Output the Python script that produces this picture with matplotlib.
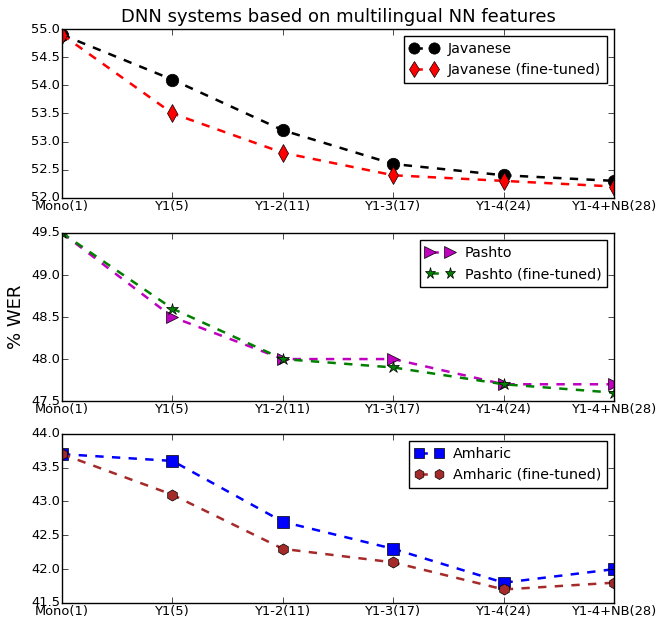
import matplotlib
matplotlib.use("Agg")
import matplotlib.pyplot as plt

plt.style.use('classic')

categories = ["Mono(1)", "Y1(5)", "Y1-2(11)", "Y1-3(17)", "Y1-4(24)", "Y1-4+NB(28)"]
javanese = [54.9, 54.1, 53.2, 52.6, 52.4, 52.3]
javanese_ft = [54.9, 53.5, 52.8, 52.4, 52.3, 52.2]
pashto = [49.5, 48.5, 48.0, 48.0, 47.7, 47.7]
pashto_ft = [49.5, 48.6, 48.0, 47.9, 47.7, 47.6]
amharic = [43.7, 43.6, 42.7, 42.3, 41.8, 42.0]
amharic_ft = [43.7, 43.1, 42.3, 42.1, 41.7, 41.8]

x = list(range(len(categories)))

fig = plt.figure(figsize=(6.62, 6.18), dpi=100, facecolor='white')
W = 0.834
L = 0.0937
ax1 = fig.add_axes([L, 0.680, W, 0.273])
ax2 = fig.add_axes([L, 0.351, W, 0.272])
ax3 = fig.add_axes([L, 0.0243, W, 0.2737])

panels = [
    (ax1, [(javanese, 'Javanese', 'k', 'o', 9), (javanese_ft, 'Javanese (fine-tuned)', 'r', 'd', 9)], (52.0, 55.0)),
    (ax2, [(pashto, 'Pashto', 'm', '>', 9), (pashto_ft, 'Pashto (fine-tuned)', 'g', '*', 9)], (47.5, 49.5)),
    (ax3, [(amharic, 'Amharic', 'b', 's', 8), (amharic_ft, 'Amharic (fine-tuned)', 'brown', 'h', 8)], (41.5, 44.0)),
]

for ax, series, ylim in panels:
    for vals, lab, col, mk, ms in series:
        ax.plot(x, vals, linestyle='--', color=col, marker=mk, markersize=ms,
                markerfacecolor=col, markeredgecolor='k', linewidth=1.8, label=lab)
    ax.set_xlim(0, len(categories) - 1)
    ax.set_ylim(*ylim)
    ax.set_xticks(x)
    ax.set_xticklabels(categories)
    ax.tick_params(labelsize=9.4, pad=1.5)
    ax.yaxis.set_major_formatter(matplotlib.ticker.FormatStrFormatter('%.1f'))
    ax.legend(loc='upper right', numpoints=2, fontsize=10.3, handlelength=2.0,
              handletextpad=0.7, borderaxespad=0.5, markerscale=0.9)

ax1.set_title("DNN systems based on multilingual NN features", fontsize=13)
ax2.set_ylabel("% WER", fontsize=13, labelpad=4)

fig.savefig("out.png", dpi=100, facecolor='white')
